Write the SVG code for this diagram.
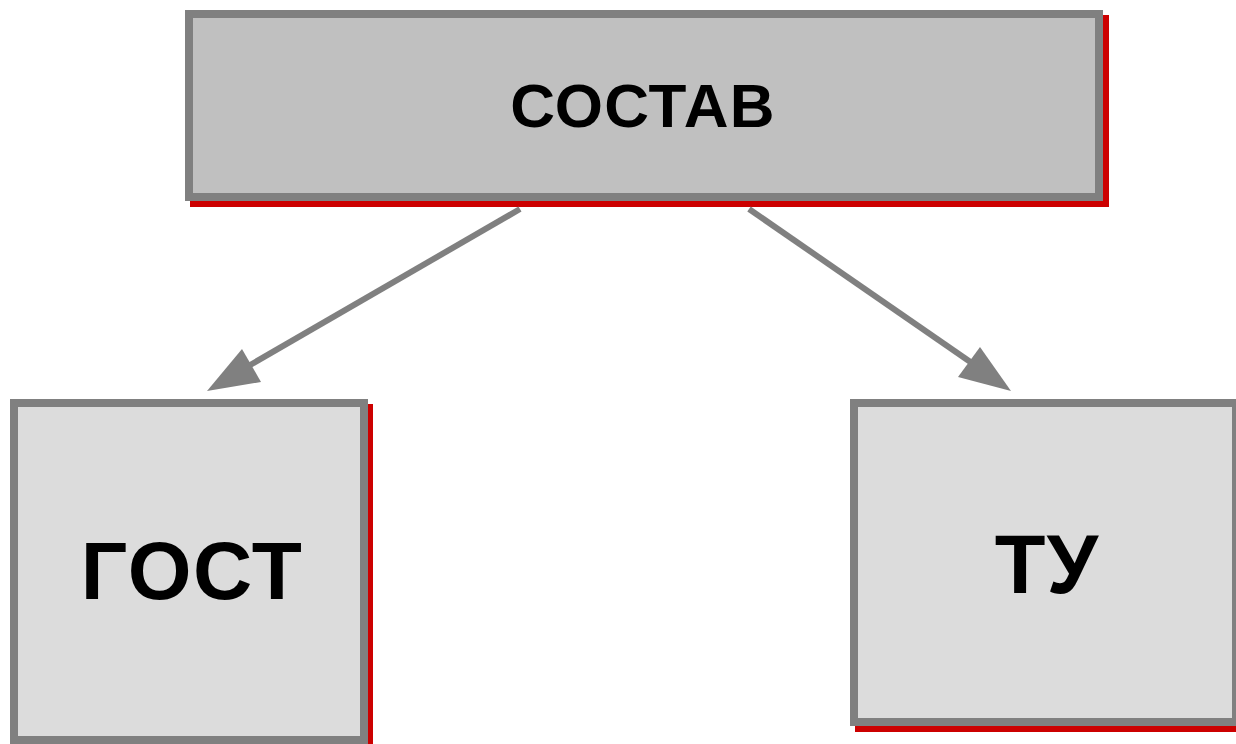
<svg xmlns="http://www.w3.org/2000/svg" width="1236" height="744" viewBox="0 0 1236 744">
<style>
.shadow{fill:#cc0000;}
.box{stroke:#808080;stroke-width:8;}
.top{fill:#c0c0c0;}
.sub{fill:#dcdcdc;}
.lbl{font-family:"Liberation Sans",Arial,sans-serif;font-weight:bold;fill:#000;text-anchor:middle;}
.conn{stroke:#808080;stroke-width:6;fill:none;}
.head{fill:#808080;}
</style>
<g id="node-sostav">
<rect class="shadow" x="190" y="15" width="919" height="192"/>
<rect class="box top" x="189" y="14" width="910" height="183"/>
<text class="lbl" x="643" y="127" font-size="62" letter-spacing="1.2">СОСТАВ</text>
</g>
<g id="node-gost">
<rect class="shadow" x="15" y="404" width="358" height="345"/>
<rect class="box sub" x="14" y="403" width="350" height="337"/>
<text class="lbl" x="192" y="599" font-size="82" letter-spacing="1.5">ГОСТ</text>
</g>
<g id="node-tu">
<rect class="shadow" x="855" y="404" width="390" height="328"/>
<rect class="box sub" x="854" y="403" width="382" height="319"/>
<text class="lbl" x="1047" y="593" font-size="83" letter-spacing="1">ТУ</text>
</g>
<g id="connectors">
<line class="conn" x1="520" y1="209" x2="245" y2="368"/>
<polygon class="head" points="207,391 242,349 261,382"/>
<line class="conn" x1="749" y1="209" x2="982" y2="370"/>
<polygon class="head" points="1011,391 980,347 958,377"/>
</g>
</svg>
